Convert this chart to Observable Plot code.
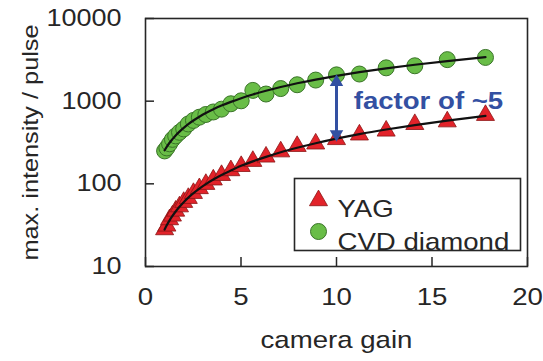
<!DOCTYPE html>
<html>
<head>
<meta charset="utf-8">
<script src="https://cdn.jsdelivr.net/npm/d3@7"></script>
<script src="https://cdn.jsdelivr.net/npm/@observablehq/plot@0.6"></script>
<style>
  html, body { margin: 0; padding: 0; background: #fff; }
  #chart { width: 543px; height: 361px; }
</style>
</head>
<body>
<div id="chart"></div>
<script>
// Camera gain settings (1 dB steps)
const gain = [1.00, 1.12, 1.26, 1.41, 1.58, 1.78, 2.00, 2.24, 2.51, 2.82, 3.16, 3.55, 3.98,
              4.47, 5.01, 5.62, 6.31, 7.08, 7.94, 8.91, 10.0, 11.2, 12.6, 14.1, 15.8, 17.8];

// Measured maximum intensity per pulse
const yag = [28, 31, 37, 41, 47, 53, 60, 67, 77, 88, 99, 112, 127,
             145, 163, 188, 212, 245, 285, 305, 345, 392, 437, 525, 565, 676];
const cvd = [250, 272, 305, 345, 380, 420, 462, 530, 585, 640, 690, 740, 800,
             930, 1010, 1350, 1220, 1420, 1580, 1800, 2080, 2130, 2530, 2680, 3180, 3380];

// Power-law fits evaluated at the same gains
const yagFit = [28, 31.7, 36.1, 40.9, 46.3, 52.8, 60.0, 68.0, 77.1, 87.6, 99.3, 112.8, 128,
                145, 165, 187, 212, 241, 273, 310, 352, 399, 454, 514, 583, 665];
const cvdFit = [255, 282, 314, 347, 385, 428, 476, 527, 584, 648, 718, 797, 884,
                981, 1087, 1206, 1338, 1484, 1646, 1826, 2026, 2243, 2494, 2759, 3057, 3404];

// Axis ticks
const xTicks = [0, 5, 10, 15, 20];
const yTicks = [10, 100, 1000, 10000];

// Legend entries
const legendLabels = ["YAG", "CVD diamond"];

// Ratio annotation: arrow between the two fits at gain 10
const arrowGain = [10];
const arrowTop = [1700];
const arrowBottom = [400];
const noteGain = [10.9];
const noteValue = [1000];
const noteText = ["factor of ~5"];

const yagRows = gain.map((g, i) => ({gain: g, value: yag[i], fit: yagFit[i]}));
const cvdRows = gain.map((g, i) => ({gain: g, value: cvd[i], fit: cvdFit[i]}));
const arrowRows = arrowGain.map((g, i) => ({gain: g, top: arrowTop[i], bottom: arrowBottom[i]}));
const noteRows = noteGain.map((g, i) => ({gain: g, value: noteValue[i], text: noteText[i]}));

const ink = "#262626";
const red = "#e2232a", redEdge = "#8c1414";
const green = "#69bd47", greenEdge = "#3a7428";
const blue = "#3350a2";
const fs = 24;

const W = 543, H = 361, mL = 145, mR = 16, mT = 18, mB = 95;
const innerW = W - mL - mR, innerH = H - mT - mB;
const tickLen = 9;

const chart = Plot.plot({
  width: W,
  height: H,
  marginLeft: mL,
  marginRight: mR,
  marginTop: mT,
  marginBottom: mB,
  style: {fontFamily: "'Liberation Sans', Arial, sans-serif", fontSize: fs + "px", color: ink, background: "#fff"},
  x: {domain: [0, 20], axis: null},
  y: {type: "log", domain: [10, 10000], axis: null},
  marks: [
    // inward ticks
    Plot.tickX(xTicks, {x: d => d, insetTop: innerH - tickLen, stroke: ink, strokeWidth: 1.5}),
    Plot.tickY(yTicks, {y: d => d, insetRight: innerW - tickLen, stroke: ink, strokeWidth: 1.5}),
    // tick labels
    Plot.text(xTicks, {x: d => d, text: d => String(d), frameAnchor: "bottom", dy: 38, fill: ink, fontSize: fs}),
    Plot.text(yTicks, {y: d => d, text: d => String(d), frameAnchor: "left", textAnchor: "end", dx: -24, fill: ink, fontSize: fs - 0.5}),
    // axis titles
    Plot.text(["camera gain"], {frameAnchor: "bottom", dy: 81, fill: ink, fontSize: fs}),
    Plot.text(["max. intensity / pulse"], {frameAnchor: "left", textAnchor: "middle", dx: -115, rotate: -90, fill: ink, fontSize: fs - 2}),
    // data
    Plot.dot(cvdRows, {x: "gain", y: "value", r: 8, fill: green, stroke: greenEdge, strokeWidth: 1}),
    Plot.dot(yagRows, {x: "gain", y: "value", symbol: "triangle", r: 6.7, fill: red, stroke: redEdge, strokeWidth: 0.8}),
    // fits
    Plot.line(cvdRows, {x: "gain", y: "fit", stroke: "#111", strokeWidth: 2.2, curve: "monotone-x"}),
    Plot.line(yagRows, {x: "gain", y: "fit", stroke: "#111", strokeWidth: 2.2, curve: "monotone-x"}),
    // ratio annotation
    Plot.link(arrowRows, {x1: "gain", x2: "gain", y1: "top", y2: "bottom", stroke: blue, strokeWidth: 3}),
    Plot.dot(arrowRows, {x: "gain", y: "top", symbol: "triangle", r: 5, fill: blue, stroke: null}),
    Plot.dot(arrowRows, {x: "gain", y: "bottom", symbol: "triangle", rotate: 180, r: 5, fill: blue, stroke: null}),
    Plot.text(noteRows, {x: "gain", y: "value", text: "text", textAnchor: "start", fill: blue, fontWeight: "bold", fontSize: fs}),
    // legend
    Plot.frame({insetLeft: 149, insetRight: 7, insetTop: 160, insetBottom: 16, fill: "#fff", stroke: ink, strokeWidth: 1.6}),
    Plot.dot([legendLabels[0]], {frameAnchor: "top-left", dx: 173, dy: 182, symbol: "triangle", r: 6.7, fill: red, stroke: redEdge, strokeWidth: 0.8}),
    Plot.dot([legendLabels[1]], {frameAnchor: "top-left", dx: 173, dy: 213, r: 8, fill: green, stroke: greenEdge, strokeWidth: 1}),
    Plot.text([legendLabels[0]], {frameAnchor: "top-left", dx: 192, dy: 181, text: d => d, textAnchor: "start", fill: ink, fontSize: fs}),
    Plot.text([legendLabels[1]], {frameAnchor: "top-left", dx: 192, dy: 214, text: d => d, textAnchor: "start", fill: ink, fontSize: fs}),
    // plot frame
    Plot.frame({stroke: ink, strokeWidth: 1.6})
  ]
});

// The figure's lettering is set wide: stretch each label along its reading direction.
const stretch = 1.15;
chart.querySelectorAll("text").forEach(t => {
  let tr = t.getAttribute("transform");
  if (!tr) {
    const x = t.getAttribute("x") || 0, y = t.getAttribute("y") || 0;
    t.removeAttribute("x"); t.removeAttribute("y");
    tr = `translate(${x},${y})`;
  }
  t.setAttribute("transform", `${tr} scale(${stretch},1)`);
});

document.getElementById("chart").appendChild(chart);
</script>
</body>
</html>
